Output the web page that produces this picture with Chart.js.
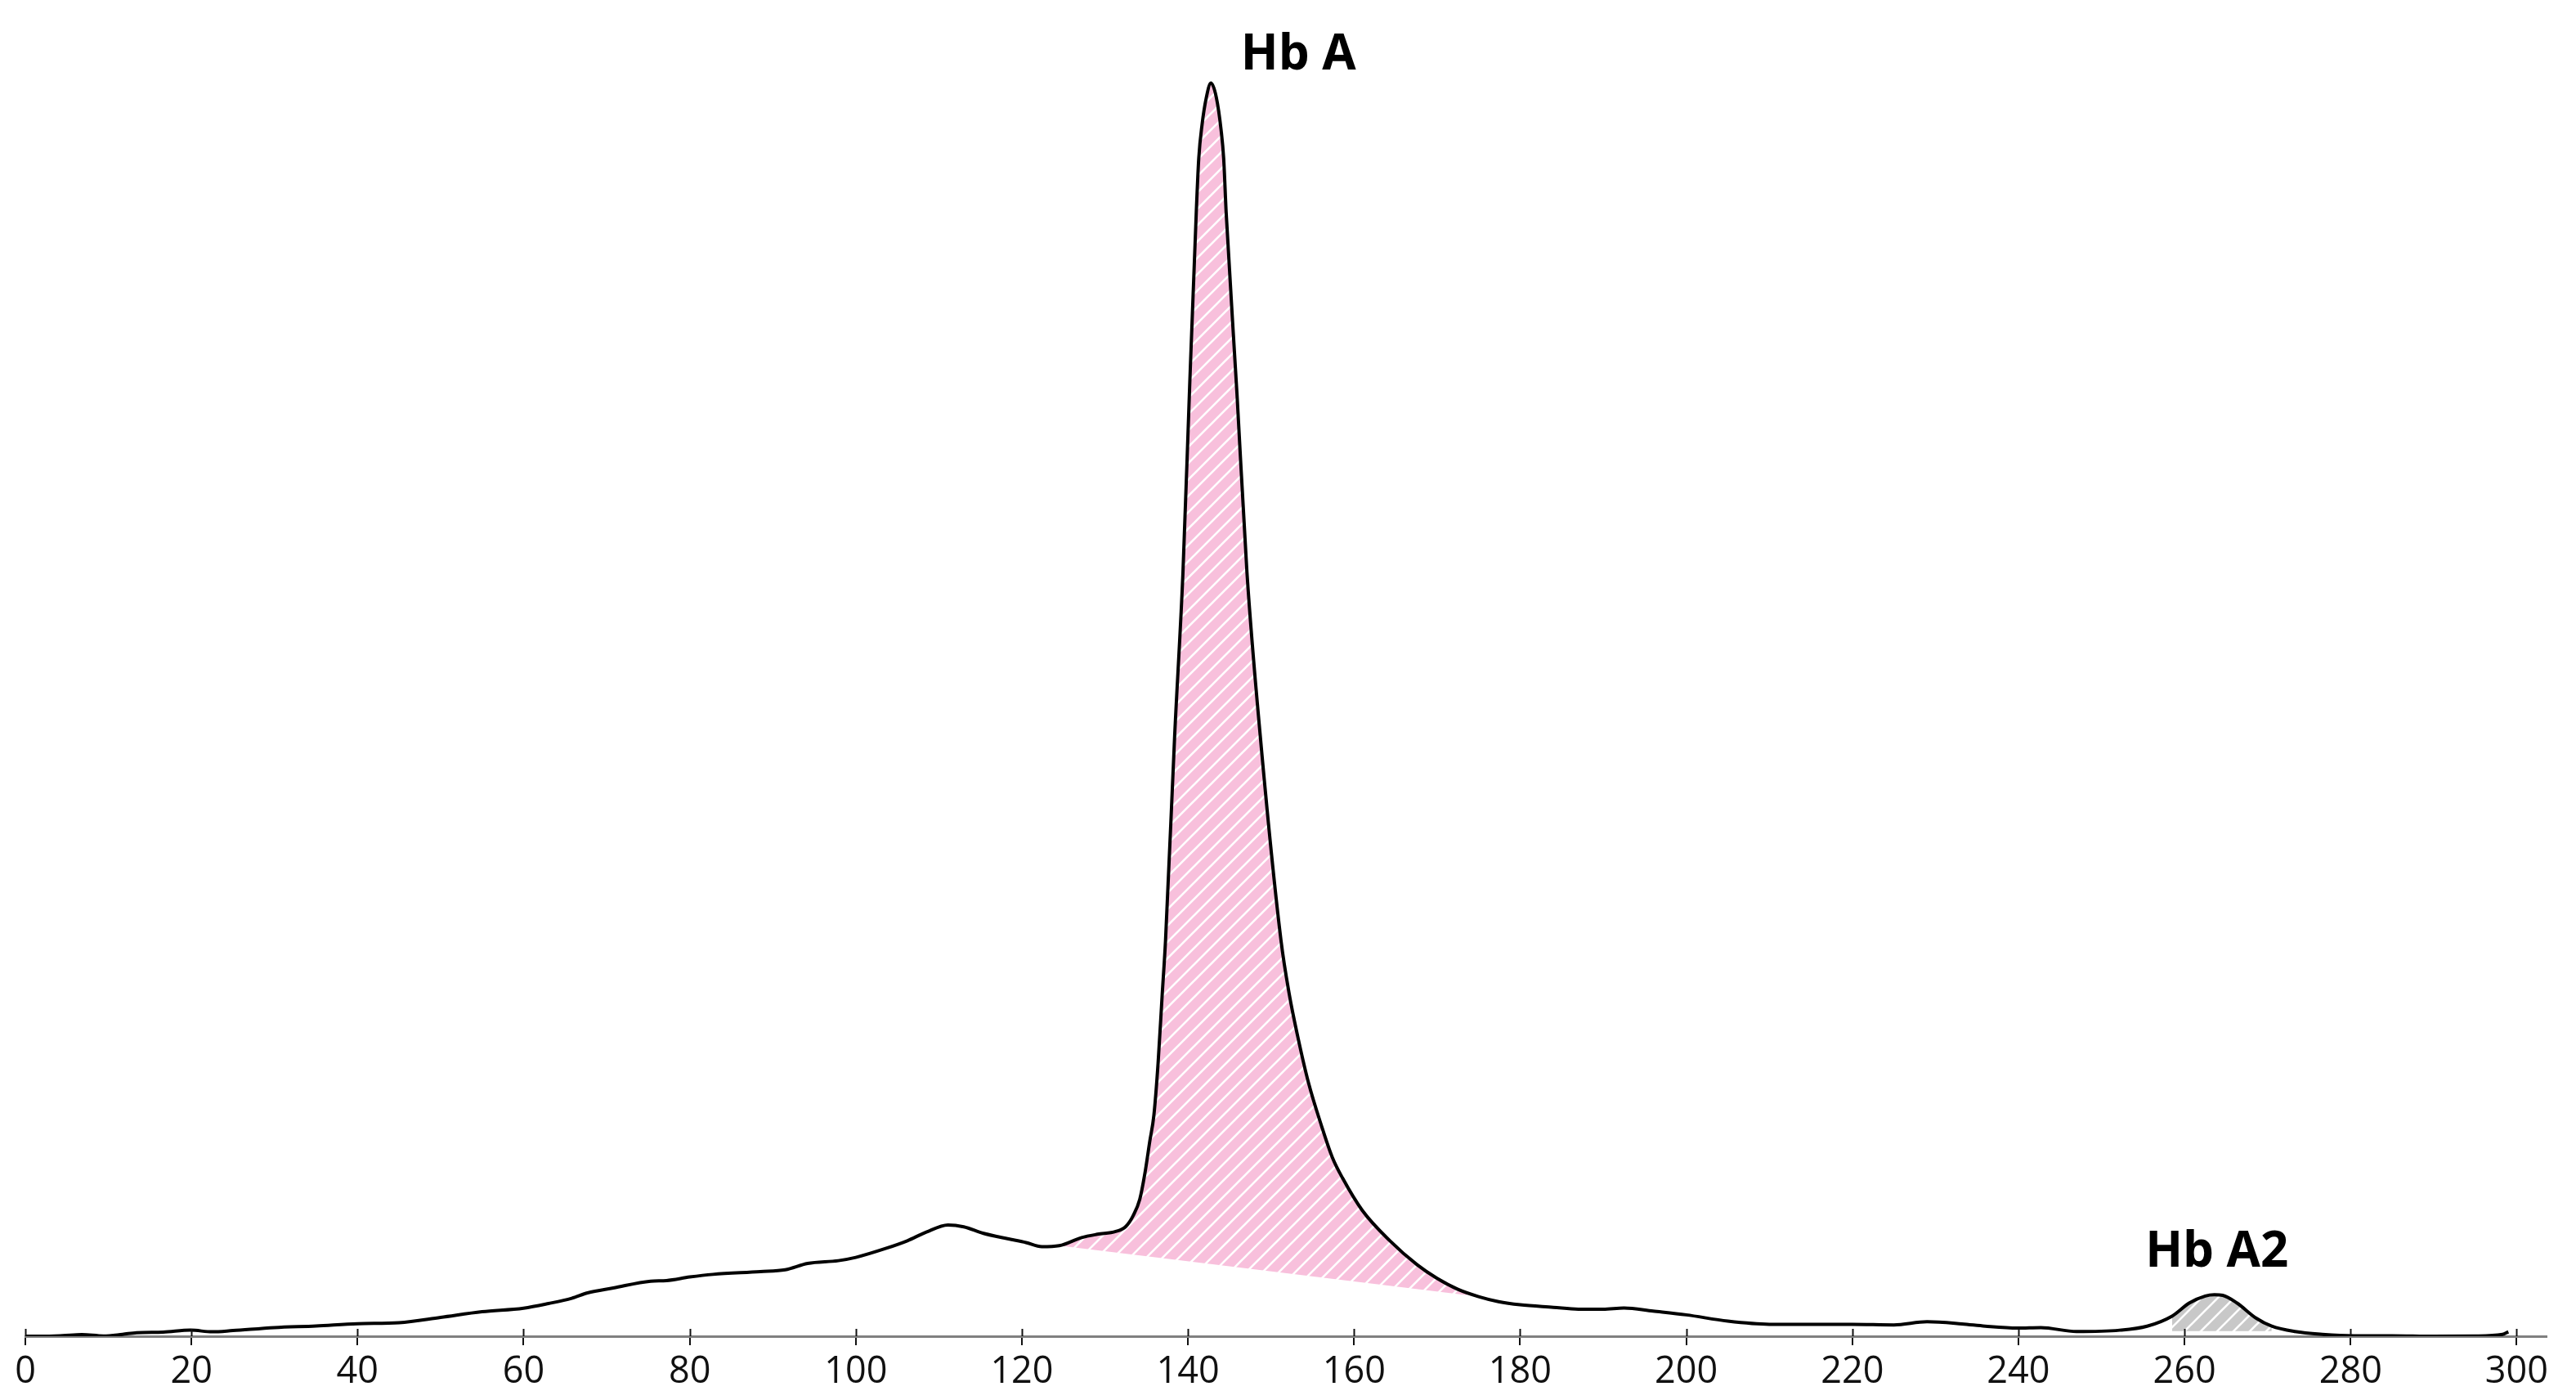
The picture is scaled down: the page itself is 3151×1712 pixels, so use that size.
<!DOCTYPE html>
<html><head><meta charset="utf-8">
<script src="https://cdn.jsdelivr.net/npm/chart.js@4.4.1/dist/chart.umd.min.js"></script>
<style>html,body{margin:0;padding:0;background:#fff;} canvas{display:block;}</style>
</head><body>
<canvas id="c" width="3151" height="1712"></canvas>
<script>
// ---- data ----
const retentionTime = [0,2,4.5,6.8,9.4,11.7,13.4,16.6,19.9,22.5,25,30,35,40,45,50,55,60,63,65.8,67.7,70.8,75.3,77.2,80,82.8,88.5,91.5,94.2,97.9,100,103.6,106.2,108.5,111.1,113,115.3,118.4,120.5,122.4,124.5,127.2,129.1,131.3,132.5,133.4,134.2,134.8,135.4,135.9,136.4,136.9,137.3,138.4,139.4,140.2,141.0,141.3,141.7,142.2,142.76,143.4,144.0,144.3,144.6,145.9,147.1,148.7,151.2,152.2,153.2,154.5,156.1,157.4,158.6,161.0,164.3,167.6,170,172.5,175,177.4,180,184,187,190,192.5,196,200,205,210,215,220,225,229,233.2,236,239.9,242.7,247,252.2,255.5,258.5,260.6,262.5,263.6,264.6,266.3,268.6,270.5,273.3,276.6,280.4,285,290,295,298.3,299];
const absorbance = [0,0,0.05,0.13,0.02,0.15,0.28,0.33,0.48,0.35,0.45,0.69,0.82,1.0,1.08,1.5,1.95,2.23,2.6,3.02,3.45,3.84,4.38,4.43,4.71,4.92,5.14,5.29,5.79,6.01,6.27,6.98,7.59,8.29,8.85,8.7,8.2,7.74,7.45,7.12,7.2,7.85,8.11,8.33,8.72,9.59,10.9,12.9,15.5,17.6,21.7,27.2,31.5,47.8,60.8,75.5,89.4,93.7,96.4,98.5,99.7,98.6,95.9,93.7,89.4,75,60.8,47.8,31.5,27.2,23.9,20.2,16.7,14.2,12.6,10.0,7.6,5.68,4.6,3.73,3.15,2.75,2.5,2.3,2.15,2.15,2.25,2.0,1.7,1.2,0.95,0.95,0.95,0.9,1.15,0.98,0.8,0.65,0.69,0.37,0.48,0.8,1.6,2.65,3.2,3.3,3.25,2.65,1.45,0.8,0.37,0.15,0.04,0.04,0,0.02,0.15,0.35];
const xTickValues = [0,20,40,60,80,100,120,140,160,180,200,220,240,260,280,300];
const hbABaselineX = [124.5, 175];
const hbABaselineY = [7.2, 3.15];
const hbA2Range = [258.5, 270.5];
const hbA2Floor = 0.4;
const peakNames = ['Hb A', 'Hb A2'];
const peakLabelX = [153.3, 263.9];
const peakLabelY = [100.8, 5.5];

// ---- derived tables ----
const curve = retentionTime.map((x, i) => ({x, y: absorbance[i]}));
const hbASeg = curve.filter(p => p.x >= hbABaselineX[0] && p.x <= hbABaselineX[1]);
const hbABase = hbABaselineX.map((x, i) => ({x, y: hbABaselineY[i]}));
const hbA2Seg = curve.filter(p => p.x >= hbA2Range[0] && p.x <= hbA2Range[1]);

function hatch(bg) {
  const s = 20, c = document.createElement('canvas');
  c.width = s; c.height = s;
  const g = c.getContext('2d');
  g.fillStyle = bg; g.fillRect(0, 0, s, s);
  g.strokeStyle = '#ffffff'; g.lineWidth = 2.6;
  g.beginPath();
  g.moveTo(-5, s + 5); g.lineTo(s + 5, -5);
  g.moveTo(-5, 5); g.lineTo(5, -5);
  g.moveTo(s - 5, s + 5); g.lineTo(s + 5, s - 5);
  g.stroke();
  return g.createPattern(c, 'repeat');
}
const ctx = document.getElementById('c').getContext('2d');
const pinkHatch = hatch('#f8c0dc');
const greyHatch = hatch('#c8c8c8');

const labelPlugin = {
  id: 'peakLabels',
  afterDatasetsDraw(chart) {
    const {ctx, scales: {x, y}} = chart;
    ctx.save();
    ctx.strokeStyle = '#111'; ctx.lineWidth = 2;
    const yb = chart.chartArea.bottom;
    xTickValues.forEach(v => {
      const px = Math.round(x.getPixelForValue(v)) + 0.5;
      ctx.beginPath(); ctx.moveTo(px, yb - 9); ctx.lineTo(px, yb); ctx.stroke();
    });
    ctx.fillStyle = '#000';
    ctx.font = 'bold 60px "Open Sans"';
    ctx.textAlign = 'center';
    ctx.textBaseline = 'alphabetic';
    peakNames.forEach((t, i) => ctx.fillText(t, x.getPixelForValue(peakLabelX[i]), y.getPixelForValue(peakLabelY[i])));
    ctx.restore();
  }
};

new Chart(ctx, {
  type: 'line',
  data: {
    datasets: [
      {data: curve, borderColor: '#000', borderWidth: 4, pointRadius: 0, fill: false, cubicInterpolationMode: 'monotone', order: 0},
      {data: hbASeg, borderWidth: 0, borderColor: 'rgba(0,0,0,0)', pointRadius: 0, backgroundColor: pinkHatch, fill: 2, cubicInterpolationMode: 'monotone', order: 1},
      {data: hbABase, borderWidth: 0, borderColor: 'rgba(0,0,0,0)', pointRadius: 0, fill: false, order: 2},
      {data: hbA2Seg, borderWidth: 0, borderColor: 'rgba(0,0,0,0)', pointRadius: 0, backgroundColor: greyHatch, fill: {value: hbA2Floor}, cubicInterpolationMode: 'monotone', order: 1}
    ]
  },
  options: {
    responsive: false,
    animation: false,
    devicePixelRatio: 1,
    layout: {padding: {left: 31, right: 36, top: 20, bottom: 0}},
    plugins: {legend: {display: false}, tooltip: {enabled: false}},
    scales: {
      x: {
        type: 'linear', min: 0, max: 303.6,
        afterBuildTicks: s => { s.ticks = xTickValues.map(v => ({value: v})); },
        afterFit: s => { s.height = 78; },
        ticks: {font: {family: '"Open Sans"', size: 45}, color: '#111', padding: 6, maxRotation: 0, autoSkip: false, includeBounds: false},
        grid: {drawOnChartArea: false, drawTicks: true, tickLength: 11, color: '#111', lineWidth: 2},
        border: {display: true, color: '#808080', width: 3}
      },
      y: {type: 'linear', min: 0, max: 105, display: false}
    }
  },
  plugins: [labelPlugin]
});
</script>
</body></html>
